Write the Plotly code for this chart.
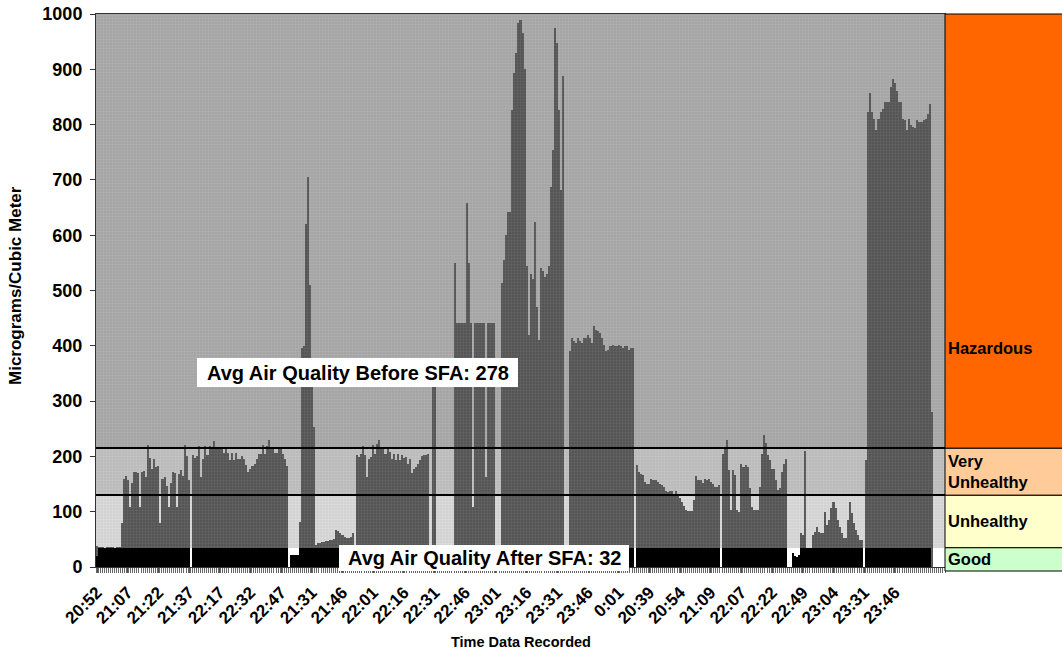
import plotly.graph_objects as go

# ---------------- data ----------------
# x-axis labels, one every 15 readings
time_labels = ["20:52", "21:07", "21:22", "21:37", "22:17", "22:32", "22:47",
               "21:31", "21:46", "22:01", "22:16", "22:31", "22:46", "23:01",
               "23:16", "23:31", "23:46", "0:01", "20:39", "20:54", "21:09",
               "22:07", "22:22", "22:49", "23:04", "23:31", "23:46"]
label_step = 15

# PM readings before SFA, one list per recording stretch (None = no reading)
before_2052 = [38, 37, 36, 36, 35, 36, 36, 37, 36, 35, 36, 37]
before_2055 = [80, 160, 165, 158, 108, 152, 172, 172, 170, 108, 172, 174, 162, 220, 198,
               178, 195, 180, 183, 79, 160, 163, 147, 108, 152, 172, 170, 108, 168, 175,
               165, 220, 200, 157]
gap_a = [None]
before_2217 = [202, 198, 200, 218, 163, 195, 219, 203, 219, 217, 228, 217, 217, 216, 216,
               207, 216, 207, 193, 207, 193, 207, 196, 195, 200, 195, 184, 172, 178, 183,
               187, 195, 205, 205, 220, 205, 218, 230, 217, 216, 207, 207, 216, 216, 204,
               195, 183]
gap_b = [None, None, None, None, None]
before_2131 = [82, 396, 400, 620, 706, 510, 330, 254, 40, 44, 44, 46, 45, 47, 47, 48, 48,
               50, 67, 65, 62, 58, 55, 53, 53, 55, 62]
gap_c = [None]
before_2201 = [202, 199, 205, 219, 202, 163, 195, 199, 220, 205, 222, 229, 217, 216, 205,
               216, 208, 195, 205, 194, 205, 194, 202, 198, 199, 187, 195, 170, 177, 181,
               187, 193, 200, 202, 203, 205]
gap_d = [None]
before_2231 = [326, 326]
gap_e = [None, None, None, None, None, None, None, None, None]
before_2246 = [549, 441, 441, 441, 441, 441, 659, 549, 441, 109, 441, 441, 441, 441, 441,
               163, 441, 441, 441, 441]
gap_f = [None, None, None]
before_2301 = [513, 555, 600, 642, 642, 826, 893, 929, 983, 989, 965, 900, 545, 420, 530,
               520, 624, 470, 410, 540, 535, 525, 530, 545, 688, 754, 974, 947, 826, 682,
               887]
gap_g = [None, None]
before_2346 = [390, 414, 408, 405, 414, 408, 405, 414, 414, 420, 414, 405, 435, 429, 426,
               423, 414, 402, 390, 393, 399, 402, 399, 399, 402, 399, 396, 399, 399, 393,
               396, 396]
gap_h = [None]
before_2039 = [184, 172, 169, 166, 154, 151, 151, 160, 158, 157, 154, 151, 148, 145, 137,
               135, 137, 137, 130, 137, 130, 124, 118, 110, 103, 102, 102, 102, 121, 165,
               157, 157, 152, 160, 158, 160, 154, 151, 145, 145, 148]
gap_i = [None]
before_2109 = [205, 217, 229, 175, 103, 175, 166, 103, 100, 187, 181, 184, 181, 142, 109,
               103, 103, 103, 145, 205, 239, 224, 203, 194, 178, 178, 157, 139, 142, 172,
               187, 196]
gap_j = [None, None, None, None, None, None]
before_2249 = [61, 58, 209]
gap_k = [None, None, None]
before_2252 = [58, 64, 73, 64, 61, 61, 100, 76, 85, 107, 118, 107, 85, 73, 61, 52, 52, 85,
               118, 97, 79, 67, 58, 49, 49]
gap_l = [None]
before_2331 = [194, 823, 857, 823, 811, 790, 811, 823, 829, 841, 841, 841, 868, 883, 875,
               860, 841, 841, 811, 808, 790, 811, 799, 796, 793, 808, 805, 805, 808, 811,
               820, 838, 281]
gap_m = [None, None, None, None, None, None]

before_sfa = (before_2052 + before_2055 + gap_a + before_2217 + gap_b + before_2131 +
              gap_c + before_2201 + gap_d + before_2231 + gap_e + before_2246 + gap_f +
              before_2301 + gap_g + before_2346 + gap_h + before_2039 + gap_i +
              before_2109 + gap_j + before_2249 + gap_k + before_2252 + gap_l +
              before_2331 + gap_m)

# PM readings after SFA (ten per row)
after_2052 = [20, 34, 34, 34, 34, 34, 34, 34, 34, 34,
              34, 34, 34, 34, 34, 34, 34, 34, 34, 34,
              34, 34, 34, 34, 34, 34, 34, 34, 34, 34,
              34, 34, 34, 34, 34, 34, 34, 34, 34, 34,
              34, 34, 34, 34, 34, 34]
after_2217 = [None, 34, 34, 34, 34, 34, 34, 34, 34, 34,
              34, 34, 34, 34, 34, 34, 34, 34, 34, 34,
              34, 34, 34, 34, 34, 34, 34, 34, 34, 34,
              34, 34, 34, 34, 34, 34, 34, 34, 34, 34,
              34, 34, 34, 34, 34, 34, 34, 34]
after_2131 = [None, 22, 22, 22, 22, 34, 34, 34, 34, 34,
              34, 34, 34, 34, 34, 34, 34, 34, 34, 34,
              34, 34, 34, 34, 34, 34, 34, 34, 34, 34,
              34, 34, 34, 34, 34, 34, 34, 34, 34, 34,
              34, 34, 34, 34, 34, 34, 34, 34, 34, 34,
              34, 34, 34, 34, 34, 34, 34, 34, 34, 34,
              34, 34, 34, 34, 34, 34, 34, 34, 34, 34,
              34, 34, 34, 34, 34, 34, 34, 34, 34, 34,
              34, 34, 34, 34, 34, 34, 34, 34, 34, 34,
              34, 34, 34, 34, 34, 34, 34, 34, 34, 34,
              34, 34, 34, 34, 34, 34, 34, 34, 34, 34,
              34, 34, 34, 34, 34, 34, 34, 34, 34, 34,
              34, 34, 34, 34, 34, 34, 34, 34, 34, 34,
              34, 34, 34, 34, 34, 34, 34, 34, 34, 34,
              34, 34, 34, 34, 34, 34, 34, 34, 34, 34,
              34, 34, 34, 34, 34, 34, 34, 34, 34, 34,
              34, 34, 34, 34, 34, 34, 34, 34, 34]
after_2039 = [None, 34, 34, 34, 34, 34, 34, 34, 34, 34,
              34, 34, 34, 34, 34, 34, 34, 34, 34, 34,
              34, 34, 34, 34, 34, 34, 34, 34, 34, 34,
              34, 34, 34, 34, 34, 34, 34, 34, 34, 34,
              34, 34]
after_2109 = [None, 34, 34, 34, 34, 34, 34, 34, 34, 34,
              34, 34, 34, 34, 34, 34, 34, 34, 34, 34,
              34, 34, 34, 34, 34, 34, 34, 34, 34, 34,
              34, 34, 34]
after_2249 = [None, None, 25, 20, 18, 22, 34, 34, 34, 34,
              34, 34, 34, 34, 34, 34, 34, 34, 34, 34,
              34, 34, 34, 34, 34, 34, 34, 34, 34, 34,
              34, 34, 34, 34, 34, 34, 34]
after_2331 = [None, 34, 34, 34, 34, 34, 34, 34, 34, 34,
              34, 34, 34, 34, 34, 34, 34, 34, 34, 34,
              34, 34, 34, 34, 34, 34, 34, 34, 34, 34,
              34, 34, 34, None, None, None, None, None, None, None]

after_sfa = (after_2052 + after_2217 + after_2131 + after_2039 + after_2109 +
             after_2249 + after_2331)

# air-quality bands (micrograms / cubic meter)
band_names = ["Good", "Unhealthy", "Very<br>Unhealthy", "Hazardous"]
band_edges = [0, 35, 130, 215, 1000]

n = len(before_sfa)
assert n == len(after_sfa), (n, len(after_sfa))
idx = list(range(n))

# ---------------- figure ----------------
W, H = 1062, 656
ML, MR, MT, MB = 96, 117, 14, 89
PW, PH = W - ML - MR, H - MT - MB


def px_x(px):
    return (px - ML) / PW


def px_y(py):
    return (H - MB - py) / PH


FONT = "Liberation Sans, Arial, sans-serif"

fig = go.Figure()

# textured grey bands behind the readings (Good band stays white)
band_fill = ["#d3d3d3", "#bbbbbb", "#a5a5a5"]
band_dots = ["#dedede", "#c6c6c6", "#b0b0b0"]
for lo, hi, col, dot in zip(band_edges[1:4], band_edges[2:5], band_fill, band_dots):
    fig.add_trace(go.Bar(
        x=[(n - 1) / 2], width=[n], base=[lo], y=[hi - lo],
        marker=dict(color=col, line=dict(width=0),
                    pattern=dict(shape="+", fgcolor=dot, bgcolor=col, size=3,
                                 solidity=0.3, fillmode="replace")),
        hoverinfo="skip"))

fig.add_trace(go.Bar(x=idx, y=before_sfa, width=1, name="Before SFA",
                     marker=dict(color="#575757", line=dict(width=0),
                                 pattern=dict(shape="+", fgcolor="#676767",
                                              bgcolor="#555555", size=3, solidity=0.3,
                                              fillmode="replace"))))
fig.add_trace(go.Bar(x=idx, y=after_sfa, width=1, name="After SFA",
                     marker=dict(color="#000000", line=dict(width=0))))

shapes = []
# band boundary lines across the plot
for v in band_edges[2:4]:
    shapes.append(dict(type="line", xref="paper", yref="y", x0=0, x1=1, y0=v, y1=v,
                       line=dict(color="#000000", width=2), layer="above"))

# legend panel on the right
panel_fill = ["#ccffcc", "#ffffcc", "#ffcc99", "#ff6600"]
panel_lo = [px_y(571)] + [e / 1000 for e in band_edges[1:4]]
panel_hi = [e / 1000 for e in band_edges[1:]]
for lo, hi, col in zip(panel_lo, panel_hi, panel_fill):
    shapes.append(dict(type="rect", xref="paper", yref="paper", x0=1, x1=px_x(1063),
                       y0=lo, y1=hi, fillcolor=col,
                       line=dict(color="#000000", width=1), layer="above"))

# white boxes behind the average labels
shapes.append(dict(type="rect", xref="paper", yref="paper", x0=px_x(197), x1=px_x(518),
                   y0=px_y(387), y1=px_y(358), fillcolor="#ffffff", line=dict(width=0),
                   layer="above"))
shapes.append(dict(type="rect", xref="paper", yref="paper", x0=px_x(339), x1=px_x(629),
                   y0=px_y(571), y1=px_y(545), fillcolor="#ffffff", line=dict(width=0),
                   layer="above"))


def label(text, x, y, size, **kw):
    d = dict(text=text, xref="paper", yref="paper", x=px_x(x), y=px_y(y),
             xanchor="center", yanchor="middle", showarrow=False,
             font=dict(family=FONT, size=size, color="#000000", weight="bold"))
    d.update(kw)
    return d


annotations = [
    label("Avg Air Quality Before SFA: 278", 357.5, 372.5, 20),
    label("Avg Air Quality After SFA: 32", 484, 558, 20),
    label("Time Data Recorded", 521, 642, 14.5),
    label("Micrograms/Cubic Meter", 15, 286, 17, textangle=-90),
]
label_y = [559, 521, 471, 348]
for name, ly in zip(band_names, label_y):
    annotations.append(label(name, 945.5, ly, 16.5, xanchor="left", align="left"))

fig.update_layout(
    width=W, height=H,
    margin=dict(l=ML, r=MR, t=MT, b=MB, pad=0),
    paper_bgcolor="#ffffff", plot_bgcolor="#ffffff",
    barmode="overlay", bargap=0, showlegend=False,
    shapes=shapes, annotations=annotations,
    xaxis=dict(range=[-0.5, n - 0.5], tickmode="array",
               tickvals=[i * label_step for i in range(len(time_labels))],
               ticktext=time_labels, tickangle=-45,
               tickfont=dict(family=FONT, size=17, color="#000000", weight="bold"),
               ticks="outside", ticklen=5, tickcolor="#555555", ticklabelstandoff=3,
               minor=dict(tick0=-0.5, dtick=1, ticks="outside", ticklen=5,
                          tickcolor="#666666", tickwidth=1),
               showline=True, linecolor="#333333", linewidth=1, mirror=True,
               showgrid=False, zeroline=False, automargin=False),
    yaxis=dict(range=[0, 1000], tickmode="array",
               tickvals=[0, 100, 200, 300, 400, 500, 600, 700, 800, 900, 1000],
               tickfont=dict(family=FONT, size=18, color="#000000", weight="bold"),
               ticks="outside", ticklen=5, tickcolor="#333333", ticklabelstandoff=4,
               showline=True, linecolor="#333333", linewidth=1, mirror=True,
               showgrid=False, zeroline=False, automargin=False),
)

fig.write_html("out.html")
